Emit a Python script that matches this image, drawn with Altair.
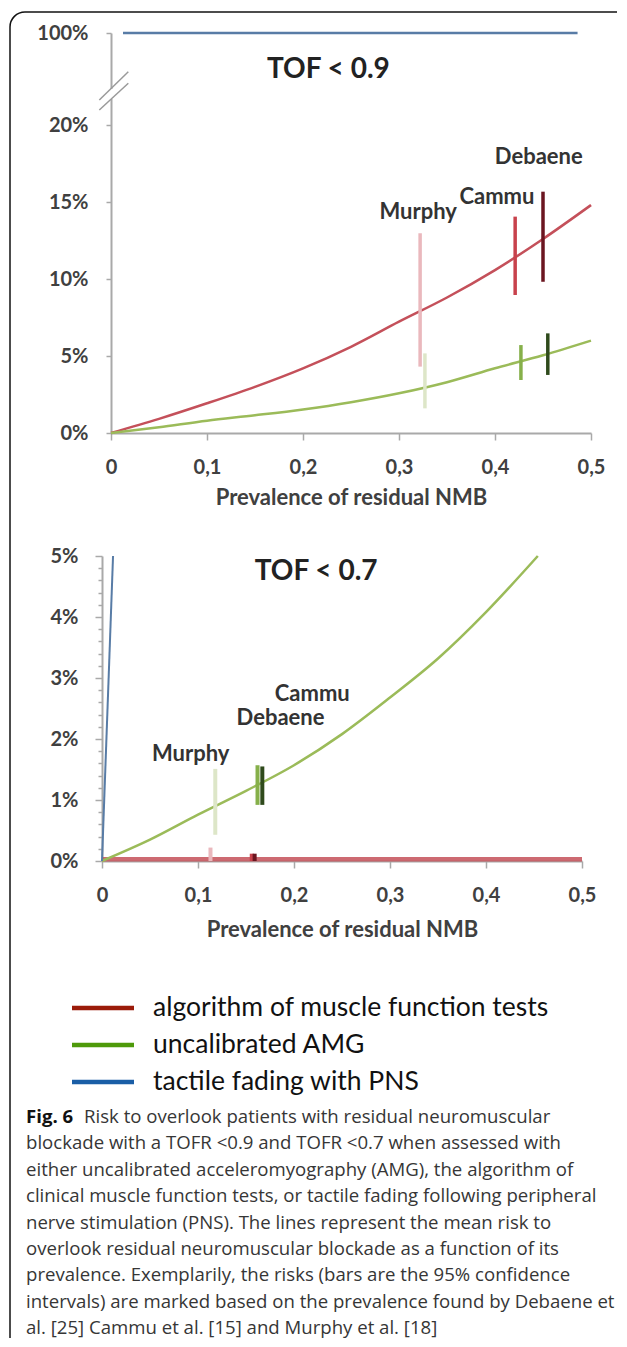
import altair as alt
import pandas as pd

# ---------------- data: TOF < 0.9 (top panel) ----------------
top_x = [0, 0.05, 0.1, 0.15, 0.2, 0.25, 0.3, 0.35, 0.4, 0.45, 0.5]
top_red = [0, 0.0092, 0.0193, 0.030, 0.042, 0.056, 0.0723, 0.088, 0.1058, 0.126, 0.148]
top_green = [0, 0.0038, 0.008, 0.0115, 0.0153, 0.020, 0.0258, 0.033, 0.042, 0.0505, 0.060]
top_blue_x = [0.0125, 0.486]
top_blue_y = [1.0, 1.0]

top_ci_key = ["Murphy-alg", "Murphy-amg", "Cammu-alg", "Cammu-amg", "Debaene-alg", "Debaene-amg"]
top_ci_x = [0.322, 0.327, 0.421, 0.427, 0.450, 0.455]
top_ci_lo = [0.0431, 0.016, 0.0896, 0.0344, 0.0982, 0.0377]
top_ci_hi = [0.1297, 0.0517, 0.1405, 0.0571, 0.1567, 0.0647]

top_lab_text = ["Murphy", "Cammu", "Debaene"]
top_lab_x = [0.320, 0.402, 0.4456]
top_lab_y = [0.1437, 0.1535, 0.1794]

top_title = ["TOF < 0.9"]
top_title_x = [0.2264]
top_title_y = [0.678]

# ---------------- data: TOF < 0.7 (bottom panel) ----------------
bot_x = [0, 0.05, 0.1, 0.15, 0.2, 0.25, 0.3, 0.35, 0.4, 0.454]
bot_green = [0, 0.0035, 0.0076, 0.0115, 0.0157, 0.0208, 0.0268, 0.0332, 0.0408, 0.0500]
bot_red_x = [0, 0.5]
bot_red_y = [0.0003, 0.0003]
bot_blue_x = [0, 0.0115]
bot_blue_y = [0, 0.05]

bot_ci_key = ["Murphy-amg", "Cammu-amg", "Debaene-amg", "Murphy-alg", "Cammu-alg", "Debaene-alg"]
bot_ci_x = [0.118, 0.162, 0.167, 0.113, 0.156, 0.159]
bot_ci_lo = [0.0043, 0.0092, 0.0092, 0.0, 0.0, 0.0]
bot_ci_hi = [0.0151, 0.0157, 0.0155, 0.0022, 0.0012, 0.0012]

bot_lab_text = ["Murphy", "Debaene", "Cammu"]
bot_lab_x = [0.0924, 0.186, 0.219]
bot_lab_y = [0.0176, 0.0235, 0.0273]

bot_title = ["TOF < 0.7"]
bot_title_x = [0.223]
bot_title_y = [0.0473]

# ---------------- legend + caption ----------------
legend_labels = ["algorithm of muscle function tests", "uncalibrated AMG", "tactile fading with PNS"]
caption_head = "Fig. 6"
caption_lines = [
    "Risk to overlook patients with residual neuromuscular",
    "blockade with a TOFR <0.9 and TOFR <0.7 when assessed with",
    "either uncalibrated acceleromyography (AMG), the algorithm of",
    "clinical muscle function tests, or tactile fading following peripheral",
    "nerve stimulation (PNS). The lines represent the mean risk to",
    "overlook residual neuromuscular blockade as a function of its",
    "prevalence. Exemplarily, the risks (bars are the 95% confidence",
    "intervals) are marked based on the prevalence found by Debaene et",
    "al. [25] Cammu et al. [15] and Murphy et al. [18]",
]

x_ticks = [0, 0.1, 0.2, 0.3, 0.4, 0.5]
top_y_ticks = [0, 0.05, 0.1, 0.15, 0.2, 1.0]
bot_y_ticks = [round(i * 0.002, 3) for i in range(26)]

# ---------------- styles ----------------
FONT = "Lato"
AX = "#a9a9a9"
LAB = "#404040"
RED = "#c4505a"
GREEN = "#9bbb59"
BLUE = "#587ca6"
ci_keys = ["Murphy-alg", "Murphy-amg", "Cammu-alg", "Cammu-amg", "Debaene-alg", "Debaene-amg"]
ci_colors = ["#eab8bd", "#dde6c8", "#c8424c", "#86b04a", "#6b1520", "#2f4a1c"]
legend_colors = ["#9b1b0a", "#4e9a0a", "#1a5ea6"]

xlabel_expr = "datum.value == 0 ? '0' : replace(format(datum.value, '.1f'), '.', ',')"
major_test = "abs(datum.value*100 - round(datum.value*100)) < 0.01"

one = pd.DataFrame({"d": [0]})

LABEL_FS = 20
TITLE_FS = 22


def x_axis(title_pad):
    return alt.Axis(values=x_ticks, labelExpr=xlabel_expr, title="Prevalence of residual NMB",
                    grid=False, domainColor=AX, domainWidth=2, tickColor=AX, tickWidth=1.5, tickSize=7,
                    labelFont=FONT, labelFontSize=LABEL_FS, labelFontWeight="bold", labelColor=LAB,
                    labelPadding=17, labelFlush=False,
                    titleFont=FONT, titleFontSize=TITLE_FS, titleFontWeight="bold", titleColor=LAB,
                    titlePadding=title_pad)


# ================= TOP PANEL =================
xs_top = alt.Scale(domain=[0, 0.5], range=[9, 489], nice=False, zero=False)
ys_top = alt.Scale(domain=[0, 0.2, 1.0], range=[400, 92, 0], nice=False, zero=False)
ax_x_top = x_axis(10)
ax_y_top = alt.Axis(values=top_y_ticks, format=".0%", title=None, offset=-9,
                    grid=False, domainColor=AX, domainWidth=2, tickColor=AX, tickWidth=1.5, tickSize=5,
                    labelFont=FONT, labelFontSize=LABEL_FS, labelFontWeight="bold", labelColor=LAB,
                    labelPadding=18, labelOverlap=False)


def X_top(f):
    return alt.X(f + ":Q", scale=xs_top, axis=ax_x_top)


def Y_top(f):
    return alt.Y(f + ":Q", scale=ys_top, axis=ax_y_top)


top_df = pd.DataFrame({"x": top_x, "red": top_red, "green": top_green})
t_red = alt.Chart(top_df).mark_line(color=RED, strokeWidth=2.5, interpolate="monotone").encode(
    x=X_top("x"), y=Y_top("red"))
t_green = alt.Chart(top_df).mark_line(color=GREEN, strokeWidth=2.5, interpolate="monotone").encode(
    x=X_top("x"), y=Y_top("green"))
t_blue = alt.Chart(pd.DataFrame({"x": top_blue_x, "y": top_blue_y})).mark_line(
    color=BLUE, strokeWidth=2.5).encode(x=X_top("x"), y=Y_top("y"))
t_ci = alt.Chart(pd.DataFrame({"key": top_ci_key, "x": top_ci_x, "lo": top_ci_lo, "hi": top_ci_hi})).mark_rule(
    strokeWidth=3.5).encode(
    x=X_top("x"), y=Y_top("lo"), y2="hi:Q",
    color=alt.Color("key:N", scale=alt.Scale(domain=ci_keys, range=ci_colors), legend=None))
t_lab = alt.Chart(pd.DataFrame({"t": top_lab_text, "x": top_lab_x, "y": top_lab_y})).mark_text(
    font=FONT, fontSize=22, fontWeight="bold", color="#333333", baseline="middle").encode(
    x=X_top("x"), y=Y_top("y"), text="t:N")
t_title = alt.Chart(pd.DataFrame({"t": top_title, "x": top_title_x, "y": top_title_y})).mark_text(
    font=FONT, fontSize=28, fontWeight="bold", color="#222222", baseline="middle").encode(
    x=X_top("x"), y=Y_top("y"), text="t:N")

# axis break marks and figure frame (decorations)
gap = alt.Chart(one).mark_rule(color="white", strokeWidth=5).encode(
    x=alt.value(9), y=alt.value(56), y2=alt.value(66))
slash1 = alt.Chart(one).mark_rule(color="#9a9a9a", strokeWidth=1.5).encode(
    x=alt.value(-2.7), y=alt.value(67), x2=alt.value(26.3), y2=alt.value(38.7))
slash2 = alt.Chart(one).mark_rule(color="#9a9a9a", strokeWidth=1.5).encode(
    x=alt.value(-2.7), y=alt.value(77), x2=alt.value(26.3), y2=alt.value(50.3))
frame_top = alt.Chart(one).mark_rule(color="#111111", strokeWidth=1.5).encode(
    x=alt.value(-77), x2=alt.value(515), y=alt.value(-21))
frame_left = alt.Chart(one).mark_rule(color="#111111", strokeWidth=1.5).encode(
    x=alt.value(-92), y=alt.value(-6), y2=alt.value(1305))
frame_corner = alt.Chart(one).mark_arc(theta=4.712389, theta2=6.283185, radius=15.75, radius2=14.25,
                                       color="#111111").encode(x=alt.value(-77), y=alt.value(-6))

top = alt.layer(t_red, t_green, t_blue, t_ci, t_lab, t_title, gap, slash1, slash2,
                frame_top, frame_left, frame_corner).properties(width=489, height=400)

# ================= BOTTOM PANEL =================
xs_bot = alt.Scale(domain=[0, 0.5], nice=False, zero=False)
ys_bot = alt.Scale(domain=[0, 0.05], nice=False)
ax_x_bot = x_axis(14)
ax_y_bot = alt.Axis(values=bot_y_ticks,
                    labelExpr=major_test + " ? format(datum.value, '.0%') : ''",
                    title=None, grid=False, domainColor=AX, domainWidth=2, tickColor=AX, tickWidth=1.5,
                    tickSize={"condition": {"test": major_test, "value": 7}, "value": 4},
                    labelFont=FONT, labelFontSize=LABEL_FS, labelFontWeight="bold", labelColor=LAB,
                    labelPadding=17, labelOverlap=False)


def X_bot(f):
    return alt.X(f + ":Q", scale=xs_bot, axis=ax_x_bot)


def Y_bot(f):
    return alt.Y(f + ":Q", scale=ys_bot, axis=ax_y_bot)


b_red = alt.Chart(pd.DataFrame({"x": bot_red_x, "y": bot_red_y})).mark_line(
    color="#c45058", strokeWidth=4.5, opacity=0.85).encode(x=X_bot("x"), y=Y_bot("y"))
b_green = alt.Chart(pd.DataFrame({"x": bot_x, "y": bot_green})).mark_line(
    color=GREEN, strokeWidth=2.5, interpolate="monotone").encode(x=X_bot("x"), y=Y_bot("y"))
b_blue = alt.Chart(pd.DataFrame({"x": bot_blue_x, "y": bot_blue_y})).mark_line(
    color=BLUE, strokeWidth=2).encode(x=X_bot("x"), y=Y_bot("y"))
b_ci = alt.Chart(pd.DataFrame({"key": bot_ci_key, "x": bot_ci_x, "lo": bot_ci_lo, "hi": bot_ci_hi})).mark_rule(
    strokeWidth=4).encode(
    x=X_bot("x"), y=Y_bot("lo"), y2="hi:Q",
    color=alt.Color("key:N", scale=alt.Scale(domain=ci_keys, range=ci_colors), legend=None))
b_lab = alt.Chart(pd.DataFrame({"t": bot_lab_text, "x": bot_lab_x, "y": bot_lab_y})).mark_text(
    font=FONT, fontSize=22, fontWeight="bold", color="#333333", baseline="middle").encode(
    x=X_bot("x"), y=Y_bot("y"), text="t:N")
b_title = alt.Chart(pd.DataFrame({"t": bot_title, "x": bot_title_x, "y": bot_title_y})).mark_text(
    font=FONT, fontSize=28, fontWeight="bold", color="#222222", baseline="middle").encode(
    x=X_bot("x"), y=Y_bot("y"), text="t:N")

bottom = alt.layer(b_red, b_green, b_blue, b_ci, b_lab, b_title).properties(width=480, height=305)

# ================= LEGEND + CAPTION PANEL =================
leg_df = pd.DataFrame({"label": legend_labels, "i": list(range(len(legend_labels)))})
leg_y = alt.Y("i:Q", scale=alt.Scale(domain=[0, 2], range=[24, 98]), axis=None)
leg_color = alt.Color("label:N", scale=alt.Scale(domain=legend_labels, range=legend_colors), legend=None)
leg_lines = alt.Chart(leg_df).mark_rule(strokeWidth=4.5).encode(
    x=alt.value(-30), x2=alt.value(32), y=leg_y, color=leg_color)
leg_text = alt.Chart(leg_df).mark_text(font=FONT, fontSize=26.5, color="#111111", align="left",
                                       baseline="middle").encode(
    x=alt.value(51), y=leg_y, text="label:N")

cap_df = pd.DataFrame({"line": caption_lines, "i": list(range(len(caption_lines)))})
cap_df["x0"] = [-18] + [-76] * (len(caption_lines) - 1)
cap_y = alt.Y("i:Q", scale=alt.Scale(domain=[0, 8], range=[133, 344]), axis=None)
cap_text = alt.Chart(cap_df).mark_text(font="Open Sans", fontSize=18.6, color="#363636", align="left",
                                       baseline="middle").encode(
    x=alt.X("x0:Q", scale=None), y=cap_y, text="line:N")
cap_head = alt.Chart(pd.DataFrame({"t": [caption_head], "i": [0]})).mark_text(
    font="Open Sans", fontSize=18.6, fontWeight="bold", color="#111111", align="left",
    baseline="middle").encode(x=alt.value(-76), y=cap_y, text="t:N")

caption = alt.layer(leg_lines, leg_text, cap_text, cap_head).resolve_scale(
    y="independent", color="independent").properties(width=489, height=355)

chart = alt.vconcat(top, bottom, caption, spacing=123, bounds="flush").properties(
    padding={"left": 1, "top": 3, "right": 0, "bottom": 0}
).configure_view(stroke=None)

chart.save("out.html", embed_options={"renderer": "svg", "actions": False})
